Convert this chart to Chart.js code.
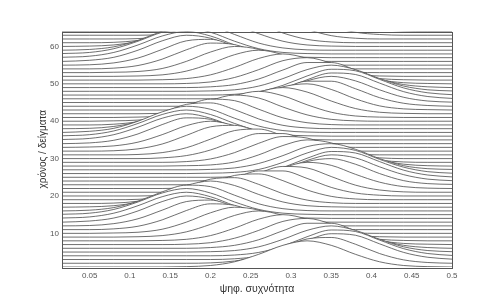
<!DOCTYPE html>
<html><head><meta charset="utf-8">
<script src="https://cdn.jsdelivr.net/npm/chart.js@4"></script>
<style>html,body{margin:0;padding:0;background:#fff}#c{display:block}</style>
</head><body>
<canvas id="c" width="477" height="307"></canvas>
<script>
// digital frequency grid
const freqs = [0.015625,0.05,0.08,0.11,0.14,0.17,0.2,0.23,0.26,0.29,0.32,0.35,0.38,0.41,0.44,0.47,0.5];
// time (samples), one trace per sample
const times = [1,2,3,4,5,6,7,8,9,10,11,12,13,14,15,16,17,18,19,20,21,22,23,24,25,26,27,28,29,30,31,32,
  33,34,35,36,37,38,39,40,41,42,43,44,45,46,47,48,49,50,51,52,53,54,55,56,57,58,59,60,61,62,63,64];
// spectral magnitude per trace (rows = times, columns = freqs)
const spectrum = [
[0,0,0,0,0,0.1,0.4,1.4,3.4,5.8,7.0,5.8,3.4,1.4,0.4,0.1,0],
[0,0,0,0,0,0,0.1,0.6,1.9,4.2,6.5,6.9,5.1,2.6,0.9,0.2,0],
[0,0,0,0,0,0,0,0.2,0.9,2.6,5.1,6.9,6.5,4.2,1.9,0.6,0.1],
[0,0,0,0,0,0,0,0.2,0.9,2.6,5.1,6.9,6.5,4.2,1.9,0.6,0.1],
[0,0,0,0,0,0,0.1,0.4,1.4,3.4,5.8,7.0,5.8,3.4,1.4,0.4,0.1],
[0,0,0,0,0,0,0.2,0.8,2.3,4.7,6.7,6.7,4.7,2.3,0.8,0.2,0],
[0,0,0,0,0,0.1,0.5,1.7,3.8,6.2,7.0,5.5,3.0,1.1,0.3,0.1,0],
[0,0,0,0,0.1,0.4,1.4,3.4,5.8,7.0,5.8,3.4,1.4,0.4,0.1,0,0],
[0,0,0,0.1,0.4,1.4,3.4,5.8,7.0,5.8,3.4,1.4,0.4,0.1,0,0,0],
[0,0,0.1,0.3,1.1,3.0,5.5,7.0,6.2,3.8,1.7,0.5,0.1,0,0,0,0],
[0,0,0.2,0.9,2.6,5.1,6.9,6.5,4.2,1.9,0.6,0.1,0,0,0,0,0],
[0,0.1,0.6,1.9,4.2,6.5,6.9,5.1,2.6,0.9,0.2,0,0,0,0,0,0],
[0,0.3,1.1,3.0,5.5,7.0,6.2,3.8,1.7,0.5,0.1,0,0,0,0,0,0],
[0.1,0.4,1.4,3.4,5.8,7.0,5.8,3.4,1.4,0.4,0.1,0,0,0,0,0,0],
[0.1,0.4,1.4,3.4,5.8,7.0,5.8,3.4,1.4,0.4,0.1,0,0,0,0,0,0],
[0,0.2,0.9,2.6,5.1,6.9,6.5,4.2,1.9,0.6,0.1,0,0,0,0,0,0],
[0,0.1,0.4,1.4,3.4,5.8,7.0,5.8,3.4,1.4,0.4,0.1,0,0,0,0,0],
[0,0,0.1,0.6,1.9,4.2,6.5,6.9,5.1,2.6,0.9,0.2,0,0,0,0,0],
[0,0,0,0.1,0.6,1.9,4.2,6.5,6.9,5.1,2.6,0.9,0.2,0,0,0,0],
[0,0,0,0,0.2,0.8,2.3,4.7,6.7,6.7,4.7,2.3,0.8,0.2,0,0,0],
[0,0,0,0,0,0.2,0.9,2.6,5.1,6.9,6.5,4.2,1.9,0.6,0.1,0,0],
[0,0,0,0,0,0.1,0.3,1.1,3.0,5.5,7.0,6.2,3.8,1.7,0.5,0.1,0],
[0,0,0,0,0,0,0.1,0.5,1.7,3.8,6.2,7.0,5.5,3.0,1.1,0.3,0.1],
[0,0,0,0,0,0,0.1,0.3,1.1,3.0,5.5,7.0,6.2,3.8,1.7,0.5,0.1],
[0,0,0,0,0,0,0,0.2,0.9,2.6,5.1,6.9,6.5,4.2,1.9,0.6,0.1],
[0,0,0,0,0,0,0.1,0.3,1.1,3.0,5.5,7.0,6.2,3.8,1.7,0.5,0.1],
[0,0,0,0,0,0,0.1,0.5,1.7,3.8,6.2,7.0,5.5,3.0,1.1,0.3,0.1],
[0,0,0,0,0,0.1,0.3,1.1,3.0,5.5,7.0,6.2,3.8,1.7,0.5,0.1,0],
[0,0,0,0,0,0.2,0.9,2.6,5.1,6.9,6.5,4.2,1.9,0.6,0.1,0,0],
[0,0,0,0,0.2,0.8,2.3,4.7,6.7,6.7,4.7,2.3,0.8,0.2,0,0,0],
[0,0,0,0.1,0.6,1.9,4.2,6.5,6.9,5.1,2.6,0.9,0.2,0,0,0,0],
[0,0,0.1,0.6,1.9,4.2,6.5,6.9,5.1,2.6,0.9,0.2,0,0,0,0,0],
[0,0.1,0.4,1.4,3.4,5.8,7.0,5.8,3.4,1.4,0.4,0.1,0,0,0,0,0],
[0,0.2,0.9,2.6,5.1,6.9,6.5,4.2,1.9,0.6,0.1,0,0,0,0,0,0],
[0.1,0.4,1.4,3.4,5.8,7.0,5.8,3.4,1.4,0.4,0.1,0,0,0,0,0,0],
[0.1,0.4,1.4,3.4,5.8,7.0,5.8,3.4,1.4,0.4,0.1,0,0,0,0,0,0],
[0,0.3,1.1,3.0,5.5,7.0,6.2,3.8,1.7,0.5,0.1,0,0,0,0,0,0],
[0,0.1,0.6,1.9,4.2,6.5,6.9,5.1,2.6,0.9,0.2,0,0,0,0,0,0],
[0,0,0.2,0.9,2.6,5.1,6.9,6.5,4.2,1.9,0.6,0.1,0,0,0,0,0],
[0,0,0.1,0.3,1.1,3.0,5.5,7.0,6.2,3.8,1.7,0.5,0.1,0,0,0,0],
[0,0,0,0.1,0.4,1.4,3.4,5.8,7.0,5.8,3.4,1.4,0.4,0.1,0,0,0],
[0,0,0,0,0.1,0.4,1.4,3.4,5.8,7.0,5.8,3.4,1.4,0.4,0.1,0,0],
[0,0,0,0,0,0.1,0.5,1.7,3.8,6.2,7.0,5.5,3.0,1.1,0.3,0.1,0],
[0,0,0,0,0,0,0.2,0.8,2.3,4.7,6.7,6.7,4.7,2.3,0.8,0.2,0],
[0,0,0,0,0,0,0.1,0.4,1.4,3.4,5.8,7.0,5.8,3.4,1.4,0.4,0.1],
[0,0,0,0,0,0,0,0.2,0.9,2.6,5.1,6.9,6.5,4.2,1.9,0.6,0.1],
[0,0,0,0,0,0,0,0.2,0.9,2.6,5.1,6.9,6.5,4.2,1.9,0.6,0.1],
[0,0,0,0,0,0,0.1,0.4,1.4,3.4,5.8,7.0,5.8,3.4,1.4,0.4,0.1],
[0,0,0,0,0,0,0.2,0.8,2.3,4.7,6.7,6.7,4.7,2.3,0.8,0.2,0],
[0,0,0,0,0,0.1,0.5,1.7,3.8,6.2,7.0,5.5,3.0,1.1,0.3,0.1,0],
[0,0,0,0,0.1,0.4,1.4,3.4,5.8,7.0,5.8,3.4,1.4,0.4,0.1,0,0],
[0,0,0,0.1,0.4,1.4,3.4,5.8,7.0,5.8,3.4,1.4,0.4,0.1,0,0,0],
[0,0,0.1,0.3,1.1,3.0,5.5,7.0,6.2,3.8,1.7,0.5,0.1,0,0,0,0],
[0,0,0.2,0.9,2.6,5.1,6.9,6.5,4.2,1.9,0.6,0.1,0,0,0,0,0],
[0,0.1,0.6,1.9,4.2,6.5,6.9,5.1,2.6,0.9,0.2,0,0,0,0,0,0],
[0,0.3,1.1,3.0,5.5,7.0,6.2,3.8,1.7,0.5,0.1,0,0,0,0,0,0],
[0.1,0.4,1.4,3.4,5.8,7.0,5.8,3.4,1.4,0.4,0.1,0,0,0,0,0,0],
[0.1,0.4,1.4,3.4,5.8,7.0,5.8,3.4,1.4,0.4,0.1,0,0,0,0,0,0],
[0,0.2,0.9,2.6,5.1,6.9,6.5,4.2,1.9,0.6,0.1,0,0,0,0,0,0],
[0,0.1,0.4,1.4,3.4,5.8,7.0,5.8,3.4,1.4,0.4,0.1,0,0,0,0,0],
[0,0,0.1,0.6,1.9,4.2,6.5,6.9,5.1,2.6,0.9,0.2,0,0,0,0,0],
[0,0,0,0.1,0.6,1.9,4.2,6.5,6.9,5.1,2.6,0.9,0.2,0,0,0,0],
[0,0,0,0,0.2,0.8,2.3,4.7,6.7,6.7,4.7,2.3,0.8,0.2,0,0,0],
[0,0,0,0,0,0.2,0.9,2.6,5.1,6.9,6.5,4.2,1.9,0.6,0.1,0,0]
];
const xTicks = [0.05,0.1,0.15,0.2,0.25,0.3,0.35,0.4,0.45,0.5];
const yTicks = [10,20,30,40,50,60];
const xTitle = 'ψηφ. συχνότητα';
const yTitle = 'χρόνος / δείγματα';

const FONT = "'Liberation Sans', Arial, sans-serif";

const datasets = times.map((t, i) => ({
  data: freqs.map((f, j) => ({x: f, y: t + spectrum[i][j]})),
  borderColor: '#4a4a4a',
  borderWidth: 0.8,
  backgroundColor: '#ffffff',
  fill: 'start',
  pointRadius: 0,
  cubicInterpolationMode: 'monotone'
}));

const boxPlugin = {
  id: 'box',
  afterDatasetsDraw(chart) {
    const {ctx, chartArea: a} = chart;
    ctx.save();
    ctx.strokeStyle = '#555';
    ctx.lineWidth = 1;
    ctx.strokeRect(Math.round(a.left) + 0.5, Math.round(a.top) + 0.5,
                   Math.round(a.right - a.left), Math.round(a.bottom - a.top));
    ctx.restore();
  }
};

new Chart(document.getElementById('c'), {
  type: 'line',
  data: {datasets},
  plugins: [boxPlugin],
  options: {
    responsive: false,
    animation: false,
    devicePixelRatio: 1,
    layout: {padding: {top: 31.5, right: 25, left: 0, bottom: 0}},
    plugins: {legend: {display: false}, tooltip: {enabled: false}},
    scales: {
      x: {
        type: 'linear', min: 0.015625, max: 0.5,
        afterBuildTicks: s => { s.ticks = xTicks.map(v => ({value: v})); },
        afterFit: s => { s.height = 40; },
        grid: {display: false, drawTicks: false},
        border: {display: false},
        ticks: {padding: 4, color: '#555', font: {family: FONT, size: 8}, maxRotation: 0,
                callback: v => String(v)},
        title: {display: true, text: xTitle, color: '#333', font: {family: FONT, size: 10.5},
                padding: {top: 0, bottom: 12}}
      },
      y: {
        type: 'linear', min: 1, max: 64,
        afterBuildTicks: s => { s.ticks = yTicks.map(v => ({value: v})); },
        afterFit: s => { s.width = 62; },
        grid: {display: false, drawTicks: false},
        border: {display: false},
        ticks: {padding: 3, color: '#555', font: {family: FONT, size: 8}},
        title: {display: true, text: yTitle, color: '#333', font: {family: FONT, size: 10},
                padding: {top: 37, bottom: 0}}
      }
    }
  }
});
</script>
</body></html>
